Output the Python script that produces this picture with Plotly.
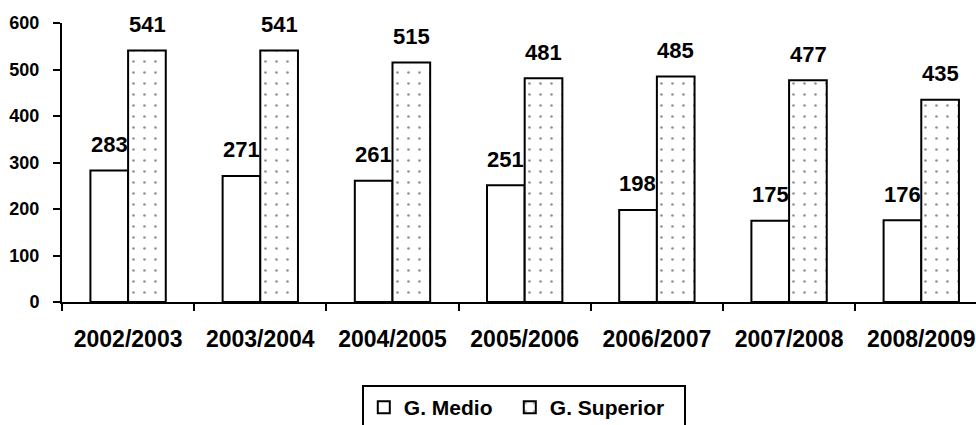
import plotly.graph_objects as go

categories = ["2002/2003", "2003/2004", "2004/2005", "2005/2006", "2006/2007", "2007/2008", "2008/2009"]
medio = [283, 271, 261, 251, 198, 175, 176]
superior = [541, 541, 515, 481, 485, 477, 435]
series_names = ["G. Medio", "G. Superior"]
y_ticks = [0, 100, 200, 300, 400, 500, 600]

FONT = "Liberation Sans, Arial, sans-serif"

fig = go.Figure()
fig.add_trace(go.Bar(
    x=categories, y=medio, name="<b>%s</b>" % series_names[0],
    marker=dict(color="white", line=dict(color="black", width=2)),
    legendwidth=101,
))
fig.add_trace(go.Bar(
    x=categories, y=superior, name="<b>%s</b>" % series_names[1],
    marker=dict(color="white", line=dict(color="black", width=2),
                pattern=dict(shape=".", size=11, solidity=0.045,
                             fgcolor="#222222", bgcolor="white", fillmode="overlay")),
    legendwidth=129,
))

annotations = []
for c, m, s in zip(categories, medio, superior):
    annotations.append(dict(x=c, y=m, text="<b>%d</b>" % m, showarrow=False,
                            xshift=-19, yshift=26, yanchor="middle",
                            font=dict(family=FONT, size=22, color="black")))
    annotations.append(dict(x=c, y=s, text="<b>%d</b>" % s, showarrow=False,
                            xshift=19, yshift=26, yanchor="middle",
                            font=dict(family=FONT, size=22, color="black")))

fig.update_layout(
    width=976, height=425,
    margin=dict(l=62, r=0, t=23, b=123, autoexpand=False),
    paper_bgcolor="white", plot_bgcolor="white",
    barmode="group", bargap=0.43, bargroupgap=0,
    font=dict(family=FONT, color="black"),
    annotations=annotations,
    showlegend=True,
    legend=dict(
        orientation="h", x=0.328, xanchor="left", y=-0.298, yanchor="top",
        bordercolor="black", borderwidth=2, bgcolor="white",
        font=dict(family=FONT, size=21, color="black"),
        entrywidthmode="pixels",
        itemclick=False, itemdoubleclick=False,
    ),
    xaxis=dict(
        range=[-0.5, 6.414], showgrid=False, showline=True, linecolor="black", linewidth=2,
        ticks="outside", tickson="boundaries", ticklen=7, tickwidth=2, tickcolor="black",
        tickmode="array", tickvals=categories,
        ticktext=["<b>%s</b>" % c for c in categories],
        tickfont=dict(family=FONT, size=23, color="black"),
        ticklabelstandoff=15, automargin=False,
    ),
    yaxis=dict(
        range=[0, 600], tickmode="array", tickvals=y_ticks,
        ticktext=["<b>%d</b>" % v for v in y_ticks],
        showgrid=False, zeroline=False,
        showline=True, linecolor="black", linewidth=2,
        ticks="outside", ticklen=7, tickwidth=2, tickcolor="black",
        tickfont=dict(family=FONT, size=18, color="black"),
        ticklabelstandoff=10, automargin=False,
    ),
)

fig.write_html("out.html", config={"displayModeBar": False},
               post_script="document.body.style.margin='0';document.body.style.overflow='hidden';")
